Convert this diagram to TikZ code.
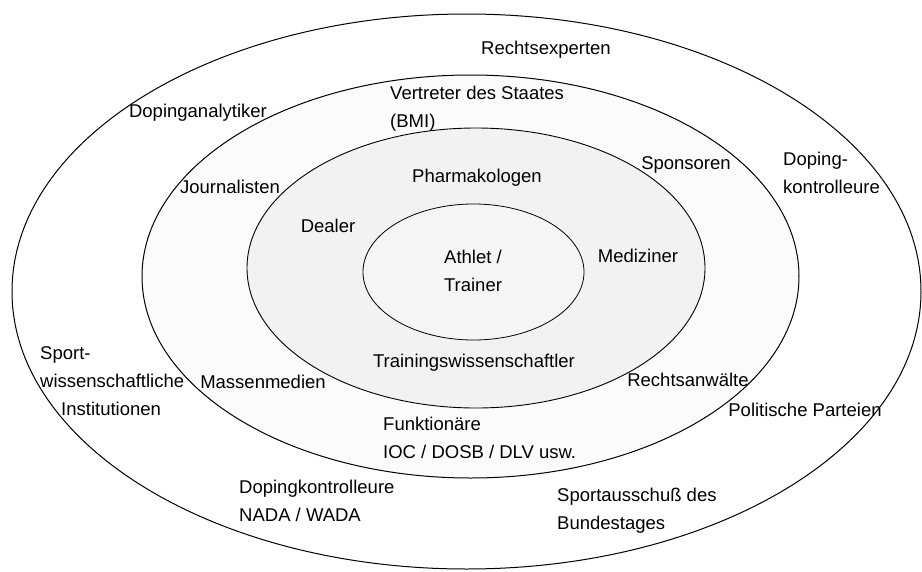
\documentclass[tikz,border=0pt]{standalone}
\usepackage{fontspec}
\setmainfont{Liberation Sans}
\tikzstyle{ringa}=[draw=black,fill=white,line width=1pt]
\tikzstyle{ringb}=[draw=black,fill=gray!3,line width=1pt]
\tikzstyle{ringc}=[draw=black,fill=gray!10,line width=0.9pt]
\tikzstyle{ringd}=[draw=black,fill=gray!8,line width=0.8pt]
\tikzstyle{lbl}=[inner sep=0pt,anchor=base,font=\fontsize{18.5}{28}\selectfont]
\tikzstyle{lbll}=[lbl,align=left,anchor=base west]
\begin{document}
\begin{tikzpicture}[x=1pt,y=-1pt]
    \useasboundingbox (0,0) rectangle (922,571);
    \draw[ringa] (466.5,291.5) ellipse (454.5 and 277.5);
    \draw[ringb] (470.5,276.5) ellipse (328.5 and 201.5);
    \draw[ringc] (476,268) ellipse (229 and 140);
    \draw[ringd] (473.5,272) ellipse (110.5 and 68);

    % inner ring
    \node[lbl,align=center] (athlet) at (473,291) {Athlet /\\Trainer};
    % second ring
    \node[lbl] (pharma) at (477,182) {Pharmakologen};
    \node[lbl] (dealer) at (328,232) {Dealer};
    \node[lbl] (medizin) at (638,262) {Mediziner};
    \node[lbl] (trainwiss) at (474,367) {Trainingswissenschaftler};
    % third ring
    \node[lbll] (staat) at (390,127) {Vertreter des Staates\\(BMI)};
    \node[lbl] (journal) at (230,193) {Journalisten};
    \node[lbl] (sponsor) at (686,169) {Sponsoren};
    \node[lbl] (massen) at (263,388) {Massenmedien};
    \node[lbl] (anwalt) at (688,386) {Rechtsanwälte};
    \node[lbll] (funktion) at (383,458) {Funktionäre\\IOC / DOSB / DLV usw.};
    % outer ring
    \node[lbl] (rechtsexp) at (546,54) {Rechtsexperten};
    \node[lbl] (analyt) at (198,117) {Dopinganalytiker};
    \node[lbll] (kontrolle) at (783,193) {Doping-\\kontrolleure};
    \node[lbll] (sportwiss) at (40,415) {Sport-\\wissenschaftliche\\\hspace*{21pt}Institutionen};
    \node[lbl] (partei) at (805,416) {Politische Parteien};
    \node[lbll] (nada) at (239,521) {Dopingkontrolleure\\NADA / WADA};
    \node[lbll] (bundestag) at (557,529) {Sportausschuß des\\Bundestages};
\end{tikzpicture}
\end{document}
